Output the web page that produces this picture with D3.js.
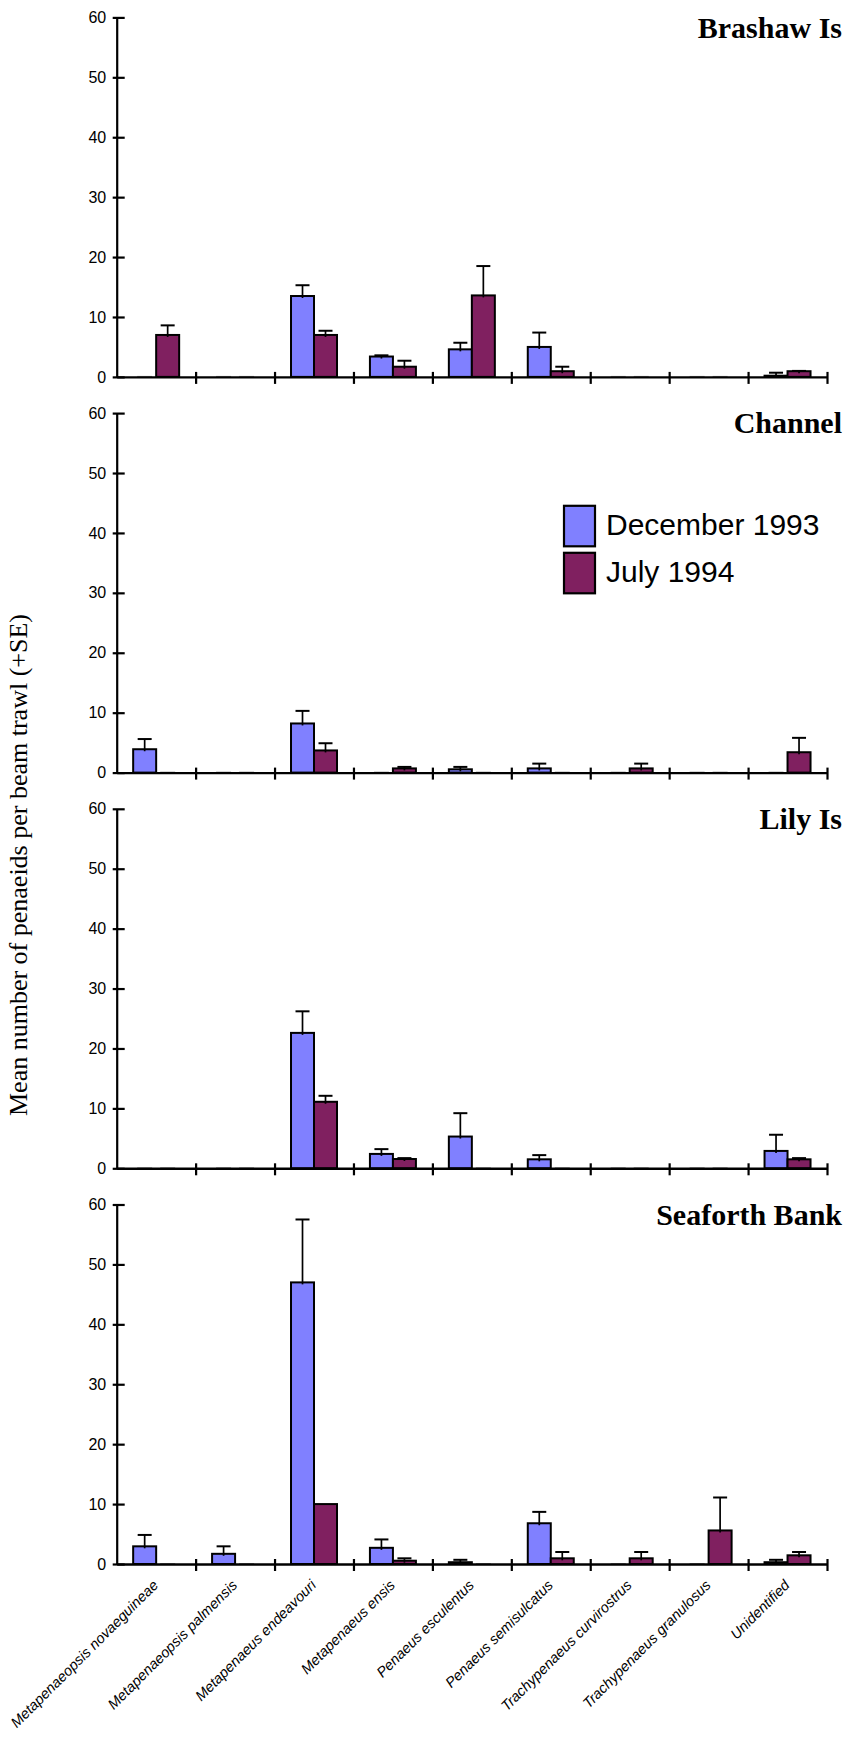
<!DOCTYPE html>
<html>
<head>
<meta charset="utf-8">
<script src="https://cdn.jsdelivr.net/npm/d3@7"></script>
<style>
  html, body { margin: 0; padding: 0; background: #fff; }
  svg { display: block; }
</style>
</head>
<body>
<script>
// Penaeid species caught by beam trawl, four sites, two sampling periods
const species = [
  "Metapenaeopsis novaeguineae",
  "Metapenaeopsis palmensis",
  "Metapenaeus endeavouri",
  "Metapenaeus ensis",
  "Penaeus esculentus",
  "Penaeus semisulcatus",
  "Trachypenaeus curvirostrus",
  "Trachypenaeus granulosus",
  "Unidentified"
];
const sites = ["Brashaw Is", "Channel", "Lily Is", "Seaforth Bank"];
const seriesNames = ["December 1993", "July 1994"];
const yTicks = [0, 10, 20, 30, 40, 50, 60];

// Means and standard errors, one array per site and period
const brashawDec   = [0, 0, 13.5, 3.4, 4.6, 5.0, 0, 0, 0.2];
const brashawDecSE = [0, 0, 1.8, 0.2, 1.1, 2.4, 0, 0, 0.5];
const brashawJul   = [7.0, 0, 7.0, 1.7, 13.6, 0.95, 0, 0, 0.95];
const brashawJulSE = [1.6, 0, 0.7, 1.0, 4.9, 0.75, 0, 0, 0.05];

const channelDec   = [3.9, 0, 8.2, 0, 0.55, 0.7, 0, 0, 0];
const channelDecSE = [1.7, 0, 2.1, 0, 0.4, 0.8, 0, 0, 0];
const channelJul   = [0, 0, 3.7, 0.7, 0, 0, 0.7, 0, 3.4];
const channelJulSE = [0, 0, 1.2, 0.25, 0, 0, 0.8, 0, 2.4];

const lilyDec   = [0, 0, 22.6, 2.4, 5.3, 1.5, 0, 0, 2.9];
const lilyDecSE = [0, 0, 3.6, 0.8, 3.9, 0.7, 0, 0, 2.7];
const lilyJul   = [0, 0, 11.1, 1.55, 0, 0, 0, 0, 1.5];
const lilyJulSE = [0, 0, 1.0, 0.15, 0, 0, 0, 0, 0.2];

const seaforthDec   = [2.95, 1.7, 47.0, 2.7, 0.3, 6.8, 0, 0, 0.3];
const seaforthDecSE = [1.9, 1.25, 10.5, 1.4, 0.4, 1.9, 0, 0, 0.4];
const seaforthJul   = [0, 0, 10.0, 0.55, 0, 0.95, 0.95, 5.6, 1.45];
const seaforthJulSE = [0, 0, 0, 0.4, 0, 1.05, 1.05, 5.5, 0.55];

const siteMeans = [
  [brashawDec, brashawJul],
  [channelDec, channelJul],
  [lilyDec, lilyJul],
  [seaforthDec, seaforthJul]
];
const siteSE = [
  [brashawDecSE, brashawJulSE],
  [channelDecSE, channelJulSE],
  [lilyDecSE, lilyJulSE],
  [seaforthDecSE, seaforthJulSE]
];

const colors = ["#8080ff", "#802060"];

const W = 848, H = 1737;
const left = 116.7, right = 827;
const firstTop = 17.4, panelStep = 395.7, plotH = 359.5;

const svg = d3.select("body").append("svg")
  .attr("width", W).attr("height", H)
  .attr("viewBox", `0 0 ${W} ${H}`);

const x = d3.scaleBand().domain(species).range([left, right]).paddingInner(0).paddingOuter(0);
const xs = d3.scaleBand().domain(seriesNames).range([0, x.bandwidth()]).paddingInner(0).paddingOuter(0.716);
const xEdge = d3.scaleLinear().domain([0, species.length]).range([left, right]);

const sans = "Arial, 'Liberation Sans', Helvetica, sans-serif";
const serif = "'Times New Roman', 'Liberation Serif', Times, serif";

sites.forEach((site, si) => {
  const top = firstTop + si * panelStep;
  const y = d3.scaleLinear().domain([0, 60]).range([top + plotH, top]);
  const g = svg.append("g");
  const y0 = y(0);

  // bars
  seriesNames.forEach((s, k) => {
    const vals = siteMeans[si][k];
    const ses = siteSE[si][k];
    const bars = g.append("g");
    species.forEach((sp, i) => {
      const bx = x(sp) + xs(s);
      const v = vals[i];
      if (v > 0) {
        bars.append("rect")
          .attr("x", bx).attr("y", y(v))
          .attr("width", xs.bandwidth()).attr("height", y0 - y(v))
          .attr("fill", colors[k]).attr("stroke", "#000").attr("stroke-width", 2);
      } else {
        bars.append("line")
          .attr("x1", bx + 4).attr("x2", bx + xs.bandwidth() - 4)
          .attr("y1", y0).attr("y2", y0)
          .attr("stroke", "#9a9a9a").attr("stroke-width", 2);
      }
      if (ses[i] > 0) {
        const cx = bx + xs.bandwidth() / 2;
        bars.append("line")
          .attr("x1", cx).attr("x2", cx)
          .attr("y1", y(v) + 2).attr("y2", y(v + ses[i]))
          .attr("stroke", "#000").attr("stroke-width", 1.7);
        bars.append("line")
          .attr("x1", cx - 7).attr("x2", cx + 7)
          .attr("y1", y(v + ses[i])).attr("y2", y(v + ses[i]))
          .attr("stroke", "#000").attr("stroke-width", 2);
      }
    });
  });

  // y axis
  const ya = g.append("g")
    .attr("transform", `translate(${left},0)`)
    .call(d3.axisLeft(y).tickValues(yTicks).tickSize(4).tickSizeOuter(0).tickPadding(6.5));
  ya.select(".domain").attr("stroke", "#000").attr("stroke-width", 2.2);
  ya.selectAll(".tick line").attr("x1", -4).attr("x2", 8).attr("stroke", "#000").attr("stroke-width", 2.2);
  ya.selectAll(".tick text").attr("font-family", sans).attr("font-size", 16).attr("fill", "#000");

  // x axis with ticks at category boundaries
  const xa = g.append("g")
    .attr("transform", `translate(0,${y0})`)
    .call(d3.axisBottom(xEdge).tickValues(d3.range(1, species.length + 1)).tickSize(7).tickSizeOuter(0).tickFormat(""));
  xa.select(".domain").attr("stroke", "#000").attr("stroke-width", 2.4);
  xa.selectAll(".tick line").attr("y1", -5).attr("stroke", "#000").attr("stroke-width", 2.2);

  // site title
  g.append("text")
    .attr("x", 842).attr("y", top + 20.3)
    .attr("text-anchor", "end")
    .attr("font-family", serif).attr("font-weight", "bold").attr("font-size", 30)
    .text(site);

  // category labels on the bottom panel only
  if (si === sites.length - 1) {
    g.append("g").selectAll("text").data(species).join("text")
      .attr("transform", d => `translate(${x(d) + x.bandwidth() / 2 + 3},${y0 + 22}) rotate(-45)`)
      .attr("text-anchor", "end")
      .attr("font-family", sans).attr("font-style", "italic").attr("font-size", 14.5)
      .text(d => d);
  }

  // legend in the Channel panel
  if (si === 1) {
    const lg = g.append("g");
    seriesNames.forEach((s, k) => {
      const ly = top + 92.7 + k * 47;
      lg.append("rect")
        .attr("x", 564).attr("y", ly).attr("width", 31).attr("height", 40.5)
        .attr("fill", colors[k]).attr("stroke", "#000").attr("stroke-width", 2.2);
      lg.append("text")
        .attr("x", 606).attr("y", ly + 29.5)
        .attr("font-family", sans).attr("font-size", 30)
        .text(s);
    });
  }
});

// shared y-axis title
svg.append("text")
  .attr("transform", `translate(27,865) rotate(-90)`)
  .attr("text-anchor", "middle")
  .attr("font-family", serif).attr("font-size", 26)
  .text("Mean number of penaeids per beam trawl (+SE)");
</script>
</body>
</html>
